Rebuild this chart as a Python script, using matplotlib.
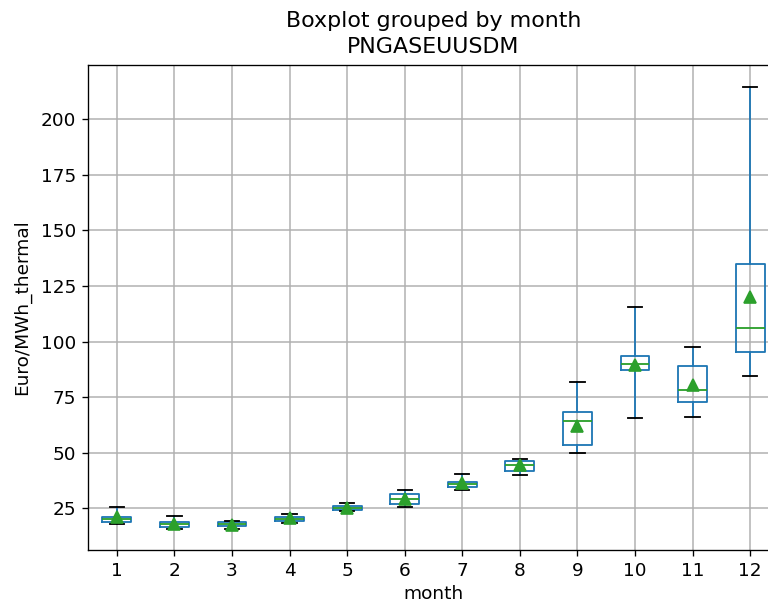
import matplotlib
matplotlib.use("Agg")
import matplotlib.pyplot as plt

# monthly box statistics for PNGASEUUSDM
months = [1, 2, 3, 4, 5, 6, 7, 8, 9, 10, 11, 12]
whislo = [18.1, 15.8, 15.8, 18.5, 23.9, 25.4, 33.4, 40.0, 49.7, 65.5, 66.0, 84.4]
q1 = [19.0, 16.7, 16.8, 19.3, 24.1, 26.9, 34.7, 41.9, 53.6, 87.2, 72.7, 95.2]
med = [20.1, 17.9, 17.9, 20.3, 25.1, 29.2, 35.9, 44.3, 64.2, 89.7, 78.2, 106.0]
q3 = [21.2, 19.0, 19.0, 21.2, 26.2, 31.3, 37.0, 46.1, 68.4, 93.3, 89.1, 134.8]
whishi = [25.6, 21.4, 19.4, 22.6, 27.4, 33.2, 40.6, 47.2, 81.8, 115.6, 97.5, 214.7]
means = [21.0, 17.8, 17.6, 20.4, 25.3, 29.0, 36.5, 44.3, 62.2, 89.5, 80.4, 119.9]

stats = []
for i, m in enumerate(months):
    stats.append(dict(label=str(m), whislo=whislo[i], q1=q1[i], med=med[i],
                      q3=q3[i], whishi=whishi[i], mean=means[i], fliers=[]))

plt.rcParams["font.size"] = 11.1
plt.rcParams["lines.linewidth"] = 1.1

fig = plt.figure(figsize=(6.4, 607 / 120), dpi=120)
ax = fig.add_axes([88 / 768, 57 / 607, 691 / 768, 485 / 607])

ax.bxp(stats, positions=months, widths=0.5, showmeans=True,
       boxprops=dict(color="#1f77b4", linewidth=1.1),
       whiskerprops=dict(color="#1f77b4", linewidth=1.1),
       capprops=dict(color="k", linewidth=1.1),
       medianprops=dict(color="#2ca02c", linewidth=1.1),
       meanprops=dict(marker="^", markerfacecolor="#2ca02c",
                      markeredgecolor="#2ca02c", markersize=6.8))

ax.set_xlim(0.5, 12.5)
ax.set_ylim(6.2, 224.4)
ax.set_xticks(months)
ax.set_xticklabels([str(m) for m in months])
ax.set_yticks([25, 50, 75, 100, 125, 150, 175, 200])
ax.grid(True, linewidth=0.9)
ax.set_axisbelow(True)
ax.set_xlabel("month", labelpad=3)
ax.set_ylabel("Euro/MWh_thermal", labelpad=6)
ax.set_title("PNGASEUUSDM", fontsize=13.3, pad=7)
fig.text(433.5 / 768, 1 - 21 / 607, "Boxplot grouped by month",
         fontsize=13.3, ha="center", va="center")

fig.savefig("out.png", dpi=120)
